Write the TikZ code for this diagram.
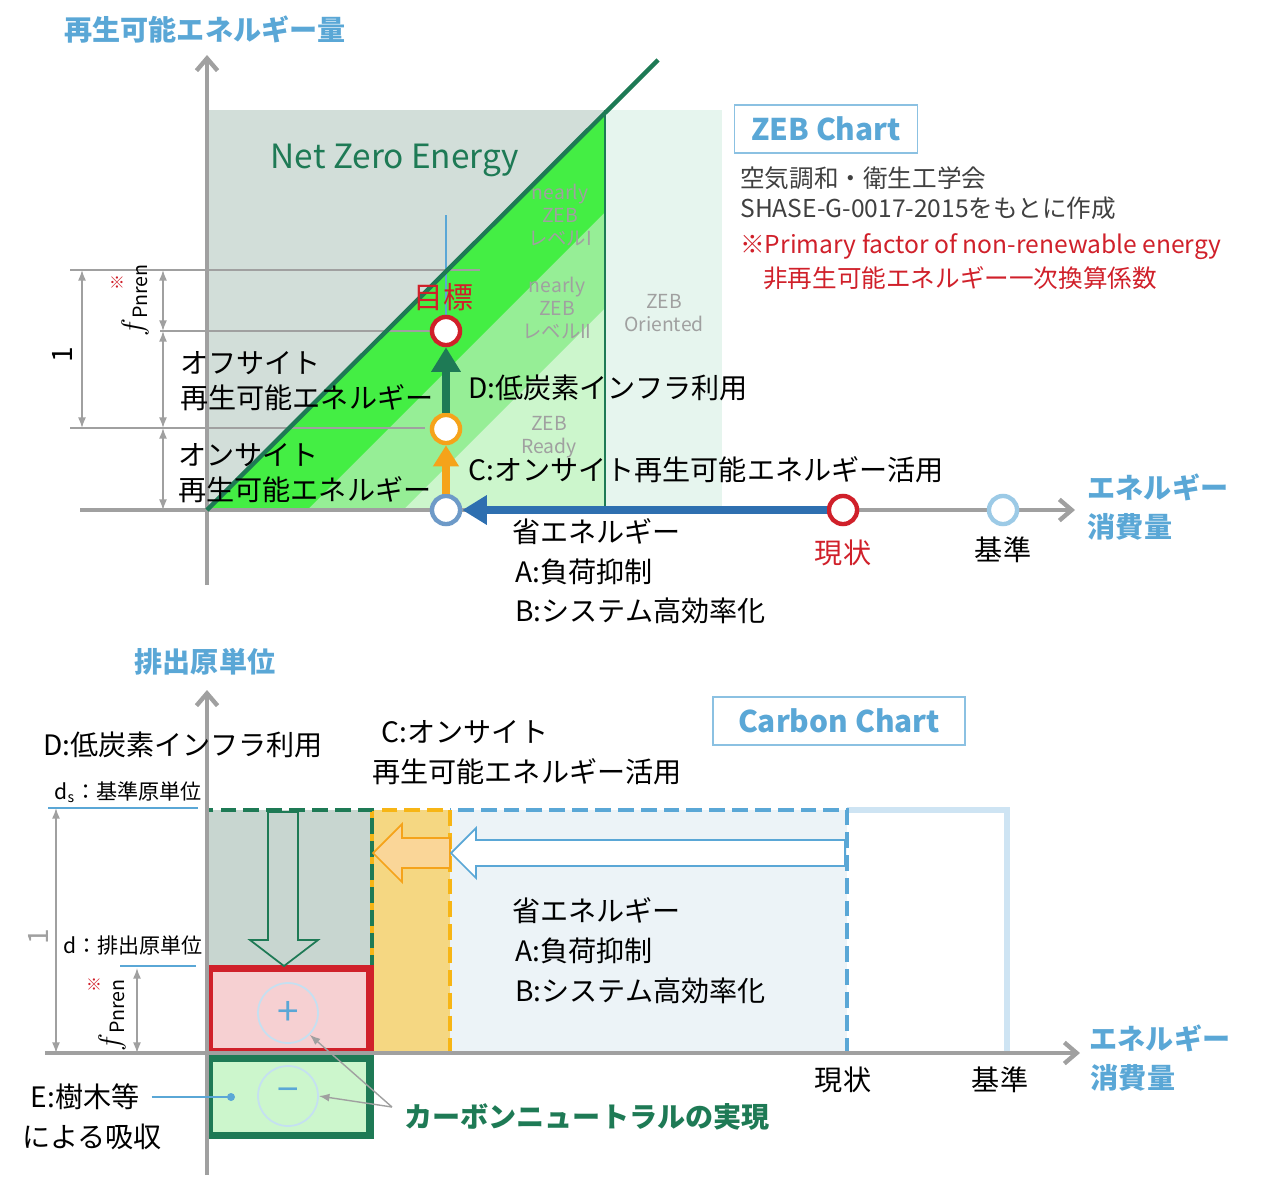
\documentclass[tikz,border=0pt]{standalone}
\usepackage{fontspec}
\setmainfont{Noto Sans CJK JP}
\setsansfont{Noto Sans CJK JP}
\usetikzlibrary{arrows.meta}
\definecolor{zg}{HTML}{1E7A55}
\definecolor{zb}{HTML}{5AA7D6}
\definecolor{ax}{HTML}{A0A0A0}
\definecolor{rd}{HTML}{D0202A}
\definecolor{og}{HTML}{F5A31A}
\definecolor{bl}{HTML}{2E6FB0}
\tikzset{
 lbl/.style={font=\fontsize{16}{19}\selectfont,inner sep=0pt},
 lbll/.style={lbl,anchor=west},
 ttl/.style={font=\bfseries\fontsize{16}{19}\selectfont,text=zb,inner sep=0pt},
 axis/.style={ax,line width=2.5pt,-{Straight Barb[length=7pt,width=12pt]}},
 dim/.style={ax,line width=0.8pt,{Latex[length=6pt]}-{Latex[length=6pt]}},
 guide/.style={ax,line width=0.8pt},
 pt/.style={circle,fill=white,line width=2.5pt,minimum size=16pt,inner sep=0pt},
 grayt/.style={font=\fontsize{11}{13}\selectfont,text=ax,align=center,inner sep=0pt},
 cbox/.style={draw=zb!70,line width=1pt,fill=white,minimum width=#1,minimum height=48*0.02cm},
}
\begin{document}
\begin{tikzpicture}[x=0.02cm,y=-0.02cm]
\useasboundingbox (0,0) rectangle (1280,1193);
% ===== top chart =====
\fill[fill={rgb,255:red,230;green,245;blue,238}] (605,110) rectangle (722,510);
\fill[fill={rgb,255:red,210;green,222;blue,217}] (207,110) rectangle (605,510);
\begin{scope}
\clip (207,110) rectangle (605,510);
\fill[fill={rgb,255:red,204;green,246;blue,204}] (207,510) -- (657,60) -- (700,60) -- (700,510) -- cycle;
\fill[fill={rgb,255:red,150;green,238;blue,150}] (207,510) -- (657,60) -- (853,60) -- (403,510) -- cycle;
\fill[fill={rgb,255:red,68;green,238;blue,68}] (207,510) -- (657,60) -- (757,60) -- (307,510) -- cycle;
\end{scope}
\draw[zg,line width=0.8pt] (605,110) -- (605,510);
\node[lbl,text=zg,font=\fontsize{19}{22}\selectfont] (nze) at (395,160) {Net Zero Energy};
\node[grayt] (n1) at (560,215) {nearly\\ZEB\\レベルI};
\node[grayt] (n2) at (557,308) {nearly\\ZEB\\レベルII};
\node[grayt] (zo) at (664,313) {ZEB\\Oriented};
\node[grayt] (zr) at (549,437) {ZEB\\Ready};
% guides
\draw[guide] (70,270) -- (480,270);
\draw[guide] (160,331) -- (430,331);
\draw[guide] (70,428) -- (425,428);
\draw[zb,line width=0.6pt] (446,215) -- (446,318);
\draw[dim] (82,270) -- (82,428);
\draw[dim] (163,270) -- (163,331);
\draw[dim] (163,331) -- (163,428);
\draw[dim] (163,428) -- (163,510);
\node[lbl,rotate=90] (one1) at (62,355) {1};
\node[lbl,rotate=90] (f1) at (135,300) {$f$\textsubscript{Pnren}};
\node[lbl,text=rd,font=\fontsize{9}{10}\selectfont] (k1) at (117,283) {※};
% axes
\draw[axis] (207,585) -- (207,55);
\draw[axis] (80,510) -- (1075,510);
\draw[zg,line width=2.5pt] (207,510) -- (658,60);
% points
\node[pt,draw=rd] (goal) at (446,331) {};
\node[pt,draw=og] (onp) at (446,429) {};
\node[pt,draw=bl!70!white] (zeb) at (446,510) {};
\node[pt,draw=rd] (now) at (843,510) {};
\node[pt,draw=zb!60!white] (base) at (1003,510) {};
\draw[bl,line width=4pt,-{Triangle[length=14pt,width=16pt]}] (now) -- (zeb);
\draw[og,line width=4pt,-{Triangle[length=12pt,width=14pt]}] (zeb) -- (onp);
\draw[zg,line width=5pt,-{Triangle[length=14pt,width=16pt]}] (onp) -- (goal);
\node[lbl,text=rd,font=\fontsize{17}{20}\selectfont] (goalt) at (443,297) {目標};
\node[lbll] (off1) at (180,363) {オフサイト};
\node[lbll] (off2) at (180,398) {再生可能エネルギー};
\node[lbll] (on1) at (178,455) {オンサイト};
\node[lbll] (on2) at (178,490) {再生可能エネルギー};
\node[lbll] (dt) at (468,388) {D:低炭素インフラ利用};
\node[lbll] (ct) at (468,470) {C:オンサイト再生可能エネルギー活用};
\node[lbll] (se) at (512,532) {省エネルギー};
\node[lbll] (at) at (515,572) {A:負荷抑制};
\node[lbll] (bt) at (515,611) {B:システム高効率化};
\node[lbl,text=rd] (nowt) at (843,553) {現状};
\node[lbl] (baset) at (1003,550) {基準};
\node[ttl] (ex1) at (1158,487) {エネルギー};
\node[ttl] (ex2) at (1130,527) {消費量};
\node[ttl] (ey) at (205,30) {再生可能エネルギー量};
\node[cbox=183*0.02cm] (zc) at (826,129) {};
\node[ttl,font=\bfseries\fontsize{17}{20}\selectfont] at (zc) {ZEB Chart};
\node[lbll,text=black!75,font=\fontsize{14}{17}\selectfont] (r1) at (740,178) {空気調和・衛生工学会};
\node[lbll,text=black!75,font=\fontsize{14}{17}\selectfont] (r2) at (740,208) {SHASE-G-0017-2015をもとに作成};
\node[lbll,text=rd,font=\fontsize{14}{17}\selectfont] (r3) at (740,247) {※Primary factor of non-renewable energy};
\node[lbll,text=rd,font=\fontsize{14}{17}\selectfont] (r4) at (763,278) {非再生可能エネルギー一次換算係数};
% ===== bottom chart =====
\fill[fill={rgb,255:red,200;green,214;blue,208}] (207,810) rectangle (372,968);
\fill[fill={rgb,255:red,245;green,215;blue,130}] (372,810) rectangle (450,1053);
\fill[fill={rgb,255:red,236;green,243;blue,247}] (450,810) rectangle (847,1053);
\draw[zb!30,line width=3pt] (847,810) -- (1007,810) -- (1007,1053);
\draw[zb,line width=2pt,dash pattern=on 9pt off 4pt] (450,810) rectangle (847,1053);
\draw[og!80!yellow,line width=2.5pt,dash pattern=on 9pt off 4pt] (372,810) rectangle (450,1053);
\draw[zg,line width=2.5pt,dash pattern=on 9pt off 4pt] (207,810) rectangle (372,968);
\fill[fill={rgb,255:red,246;green,208;blue,210}] (207,968) rectangle (370,1053);
\draw[rd,line width=4pt] (209,968) rectangle (370,1051);
\fill[fill={rgb,255:red,204;green,246;blue,204}] (207,1056) rectangle (370,1135);
\draw[zg,line width=4pt] (209,1058) rectangle (370,1135);
% hollow arrows
\draw[zg,line width=1pt] (268,812) -- (268,940) -- (250,940) -- (284,966) -- (318,940) -- (298,940) -- (298,812) -- cycle;
\draw[og,fill=og!45,line width=1pt] (450,838) -- (402,838) -- (402,824) -- (373,853) -- (402,882) -- (402,868) -- (450,868) -- cycle;
\draw[zb,fill=white,line width=1pt] (845,840) -- (476,840) -- (476,828) -- (451,853) -- (476,878) -- (476,866) -- (845,866) -- cycle;
\node[circle,draw=zb!35,line width=1pt,minimum size=60*0.02cm] (plus) at (288,1013) {};
\node[lbl,text=zb,font=\fontsize{22}{24}\selectfont] at (plus) {+};
\node[circle,draw=zb!35,line width=1pt,minimum size=60*0.02cm] (minus) at (288,1096) {};
\node[lbl,text=zb,font=\fontsize{22}{24}\selectfont] at (minus) {−};
% axes
\draw[axis] (207,1175) -- (207,690);
\draw[axis] (45,1053) -- (1080,1053);
% guides
\draw[zb,line width=0.8pt] (48,808) -- (198,808);
\draw[zb,line width=0.8pt] (120,966) -- (196,966);
\draw[dim] (56,808) -- (56,1053);
\draw[dim] (137,968) -- (137,1053);
\node[lbl,rotate=90,text=ax] (one2) at (38,937) {1};
\node[lbl,rotate=90] (f2) at (112,1015) {$f$\textsubscript{Pnren}};
\node[lbl,text=rd,font=\fontsize{9}{10}\selectfont] (k2) at (94,985) {※};
\node[lbl,font=\fontsize{12}{14}\selectfont] (ds) at (128,792) {d\textsubscript{s}：基準原単位};
\node[lbl,font=\fontsize{12}{14}\selectfont] (dd) at (133,945) {d：排出原単位};
\node[ttl] (ey2) at (205,662) {排出原単位};
\node[cbox=252*0.02cm] (cc) at (839,721) {};
\node[ttl,font=\bfseries\fontsize{17}{20}\selectfont] at (cc) {Carbon Chart};
\node[lbl] (dt2) at (183,745) {D:低炭素インフラ利用};
\node[lbl] (ct2a) at (465,732) {C:オンサイト};
\node[lbl] (ct2b) at (527,772) {再生可能エネルギー活用};
\node[lbll] (se2) at (512,911) {省エネルギー};
\node[lbll] (at2) at (515,951) {A:負荷抑制};
\node[lbll] (bt2) at (515,991) {B:システム高効率化};
\node[lbl] (nowt2) at (843,1080) {現状};
\node[lbl] (baset2) at (1000,1080) {基準};
\node[ttl] (ex3) at (1160,1038) {エネルギー};
\node[ttl] (ex4) at (1133,1078) {消費量};
\node[lbl] (et1) at (85,1097) {E:樹木等};
\node[lbl] (et2) at (92,1137) {による吸収};
\coordinate (edot) at (231,1097);
\draw[zb,line width=0.8pt] (et1.east) ++(12,0) -- (edot);
\fill[zb] (edot) circle (4);
\node[lbl,text=zg,font=\bfseries\fontsize{16}{19}\selectfont] (cn) at (587,1117) {カーボンニュートラルの実現};
\coordinate (cnp) at (392,1107);
\draw[ax,line width=0.8pt,-{Latex[length=6pt]}] (cnp) -- (plus.south east);
\draw[ax,line width=0.8pt,-{Latex[length=6pt]}] (cnp) -- (minus.east);
\end{tikzpicture}
\end{document}
